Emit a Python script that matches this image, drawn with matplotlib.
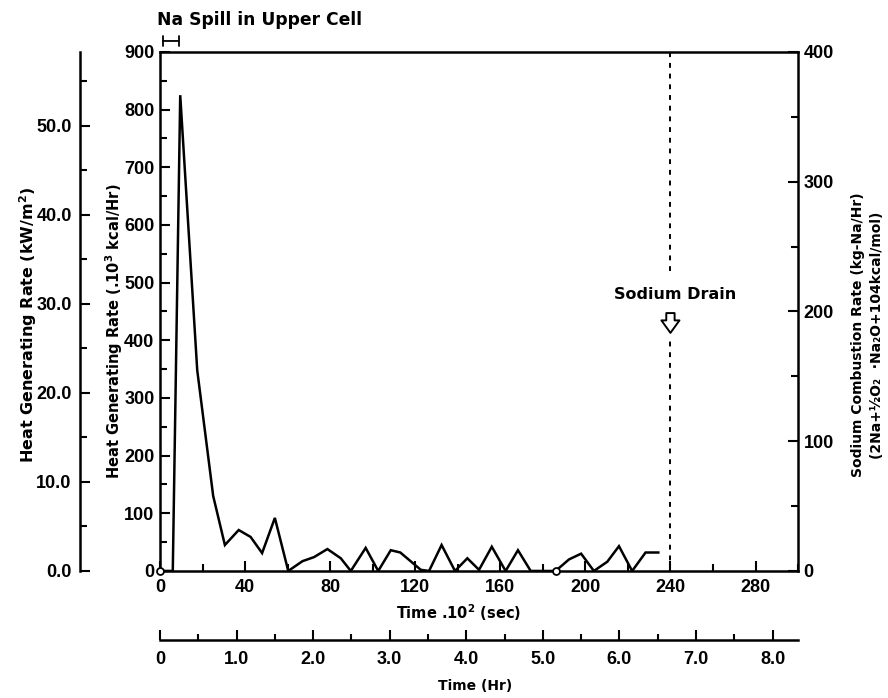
import numpy as np
import matplotlib.pyplot as plt
from matplotlib.ticker import MultipleLocator, FixedLocator

# heat generating rate vs time (time in 10^2 s, rate in 10^3 kcal/Hr)
time = [0, 6, 9.5, 17.5, 25, 30.5, 37, 42.6, 48, 54, 60.3, 67, 72.4, 78.7, 85, 89.7,
        96.7, 102.6, 108.5, 113, 122.6, 126.5, 132.4, 138.7, 144.5, 150, 156, 162.5,
        168.3, 174.3, 186, 192.3, 198, 204, 210.3, 215.8, 222, 228.3, 234.3]
rate = [0, 0, 825, 348, 130, 45, 71, 59, 31, 92, 0, 17, 24, 38, 22, 0,
        40, 0, 36, 32, 2, 0, 45, 0, 22, 2, 42, 0,
        36, 0, 0, 20, 30, 0, 16, 43, 0, 32, 32]
open_pts_t = [0, 186]
open_pts_r = [0, 0]

drain_time = 240
drain_gap = (400, 520)
drain_arrow = (452, 408)
drain_text_y = 480

spill_span = (0, 10)
spill_y = 919

x_ticks = [0, 40, 80, 120, 160, 200, 240, 280]
hr_ticks = [0, 1, 2, 3, 4, 5, 6, 7, 8]
hr_labels = ["0", "1.0", "2.0", "3.0", "4.0", "5.0", "6.0", "7.0", "8.0"]
kw_ticks = [0, 10, 20, 30, 40, 50]
kw_labels = ["0.0", "10.0", "20.0", "30.0", "40.0", "50.0"]

TICKFONT = dict(family=["Liberation Sans", "DejaVu Sans"], weight="bold", size=13)
LABFONT = dict(family=["DejaVu Sans"], weight="bold", size=10.5)

fig = plt.figure(figsize=(8.88, 6.98), dpi=100)
ax = fig.add_axes([0.1802, 0.182, 0.7185, 0.7436])

ax.plot(time, rate, color="k", lw=1.8, solid_joinstyle="miter")
ax.plot(open_pts_t, open_pts_r, "o", ms=5, mfc="white", mec="k", mew=1.3, clip_on=False, zorder=5)

ax.vlines(drain_time, 0, drain_gap[0], colors="k", linestyles=(0, (2.5, 3)), lw=1.4)
ax.vlines(drain_time, drain_gap[1], 900, colors="k", linestyles=(0, (2.5, 3)), lw=1.4)
ax.annotate("", xy=(drain_time, drain_arrow[1]), xytext=(drain_time, drain_arrow[0]),
            arrowprops=dict(arrowstyle="simple,head_width=1.3,head_length=0.9,tail_width=0.6",
                            fc="white", ec="k", lw=1.4))
ax.text(drain_time + 2, drain_text_y, "Sodium Drain", ha="center", va="center",
        **dict(LABFONT, size=11.5))

ax.annotate("", xy=(spill_span[0], spill_y), xytext=(spill_span[1], spill_y),
            arrowprops=dict(arrowstyle="|-|,widthA=0.35,widthB=0.35", lw=1.3, color="k"),
            annotation_clip=False)
fig.text(0.177, 0.972, "Na Spill in Upper Cell", ha="left", va="center",
         **dict(LABFONT, size=12.3))

ax.set_xlim(0, 300)
ax.set_ylim(0, 900)
ax.set_xticks(x_ticks)
ax.set_xticklabels([str(v) for v in x_ticks], **TICKFONT)
ax.set_yticks(np.arange(0, 901, 100))
ax.set_yticklabels([str(v) for v in range(0, 901, 100)], **TICKFONT)
ax.xaxis.set_minor_locator(MultipleLocator(20))
ax.yaxis.set_minor_locator(MultipleLocator(50))
ax.tick_params(which="both", direction="in", width=1.5, top=False, right=False)
ax.tick_params(axis="x", pad=6)
ax.tick_params(axis="y", pad=4)
ax.tick_params(which="major", length=7)
ax.tick_params(which="minor", length=5)
for s in ax.spines.values():
    s.set_linewidth(1.8)

# right axis: sodium combustion rate
ax_r = ax.twinx()
ax_r.set_ylim(0, 400)
ax_r.set_yticks([0, 100, 200, 300, 400])
ax_r.set_yticklabels(["0", "100", "200", "300", "400"], **TICKFONT)
ax_r.yaxis.set_minor_locator(MultipleLocator(50))
ax_r.tick_params(which="both", direction="in", width=1.5, pad=4)
ax_r.tick_params(which="major", length=7)
ax_r.tick_params(which="minor", length=5)
for s in ax_r.spines.values():
    s.set_visible(False)

# outer left axis: kW/m2
ax_kw = ax.twinx()
ax_kw.set_ylim(0, 58.3)
ax_kw.yaxis.set_ticks_position("left")
ax_kw.yaxis.set_label_position("left")
for k in ["top", "right", "bottom"]:
    ax_kw.spines[k].set_visible(False)
ax_kw.spines["left"].set_position(("outward", 57.6))
ax_kw.spines["left"].set_linewidth(1.8)
ax_kw.set_yticks(kw_ticks)
ax_kw.set_yticklabels(kw_labels, **TICKFONT)
ax_kw.yaxis.set_minor_locator(MultipleLocator(5))
ax_kw.tick_params(which="both", direction="in", width=1.5, pad=6)
ax_kw.tick_params(which="major", length=7)
ax_kw.tick_params(which="minor", length=5)

# lower axis in hours
ax_hr = ax.twiny()
ax_hr.set_xlim(0, 300 / 36)
ax_hr.xaxis.set_ticks_position("bottom")
ax_hr.xaxis.set_label_position("bottom")
for k in ["top", "right", "left"]:
    ax_hr.spines[k].set_visible(False)
ax_hr.spines["bottom"].set_position(("outward", 49.7))
ax_hr.spines["bottom"].set_linewidth(1.8)
ax_hr.set_xticks(hr_ticks)
ax_hr.set_xticklabels(hr_labels, **TICKFONT)
ax_hr.xaxis.set_minor_locator(MultipleLocator(0.5))
ax_hr.tick_params(which="both", direction="in", width=1.5, pad=8)
ax_hr.tick_params(which="major", length=7)
ax_hr.tick_params(which="minor", length=4)

fig.text(0.516, 0.122, "Time .10$^\\mathbf{2}$ (sec)", ha="center", va="center", **LABFONT)
fig.text(0.535, 0.017, "Time (Hr)", ha="center", va="center", **dict(LABFONT, size=10))
fig.text(0.032, 0.535, "Heat Generating Rate (kW/m$^\\mathbf{2}$)", rotation=90,
         ha="center", va="center", **dict(LABFONT, size=11.5))
fig.text(0.128, 0.525, "Heat Generating Rate (.10$^\\mathbf{3}$ kcal/Hr)", rotation=90,
         ha="center", va="center", **LABFONT)
fig.text(0.966, 0.52, "Sodium Combustion Rate (kg-Na/Hr)", rotation=90,
         ha="center", va="center", **dict(LABFONT, size=10))
fig.text(0.988, 0.52, "(2Na+½O₂  ·Na₂O+104kcal/mol)", rotation=90,
         ha="center", va="center", **dict(LABFONT, size=10))

fig.savefig("out.png", dpi=100)
